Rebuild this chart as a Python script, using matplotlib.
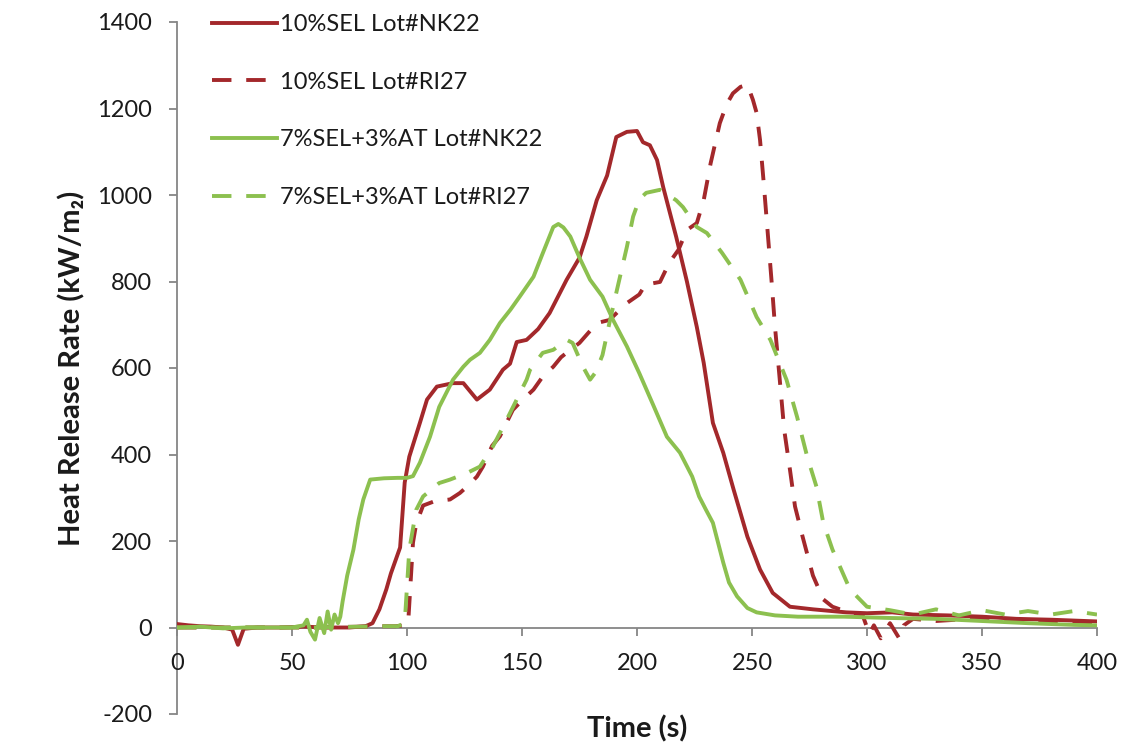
import matplotlib
matplotlib.use("Agg")
import matplotlib.pyplot as plt

plt.rcParams['font.family'] = ['Lato', 'DejaVu Sans']
plt.rcParams['axes.unicode_minus'] = False

# ---------------- data ----------------
t_sel_nk = [0, 5, 10, 15, 20, 24, 26.5, 29, 35, 45, 55, 65, 75, 82, 85, 88, 91, 93, 97, 99,
            101, 105.6, 108.7, 113, 120, 124.5, 130.4, 136, 141.7, 144.8, 147.7, 152, 157, 162, 169.4,
            175, 178, 182.5, 187, 191, 195.6, 200, 202.6, 205.6, 208.7, 211.4, 214, 217, 221.7, 226,
            229, 233, 237.5, 242, 248, 253.5, 259, 266.5, 276.5, 291, 300, 311, 320, 335, 350,
            365, 380, 400]
v_sel_nk = [8, 5, 3, 2, 0, -5, -40, -3, 0, 0, 2, 0, 0, 3, 10, 42, 88, 125, 185, 335,
            395, 473, 527, 557, 565, 565, 527, 550, 596, 610, 660, 665, 690, 727, 804,
            855, 904, 988, 1045, 1134, 1146, 1148, 1122, 1115, 1081, 1018, 965, 904, 800, 695,
            612, 473, 404, 319, 210, 134, 80, 48, 42, 35, 33, 35, 30, 28, 25,
            20, 18, 14]

t_sel_ri = [0, 20, 40, 60, 80, 90, 95, 99, 100.5, 102.6, 104, 107, 112, 118.7, 123,
            127, 130.4, 133, 137, 140.4, 146, 150, 155, 159, 163.6, 167, 171, 175, 182.6, 188,
            195.6, 201, 204, 207, 210, 214, 218, 221.7, 226, 229, 232, 236, 239, 241.7, 245,
            248, 250.4, 252, 253.5, 255, 256.5, 258.7, 260, 261.3, 264, 266.5, 268.7, 272, 276.5, 281,
            285, 292, 298, 301, 303, 306, 310, 314, 316, 320, 330, 345, 360, 380, 400]
v_sel_ri = [0, 0, 0, 0, 2, 3, 3, 5, 10, 196, 240, 282, 292, 296, 311,
            330, 349, 372, 420, 442, 503, 525, 550, 580, 603, 625, 642, 658, 704, 711,
            750, 770, 796, 796, 799, 843, 873, 919, 935, 988, 1073, 1166, 1210, 1235, 1250,
            1255, 1220, 1190, 1127, 1034, 935, 788, 695, 619, 457, 365, 280, 210, 120, 65,
            48, 35, 30, -15, 5, -25, 10, -25, 5, 20, 15, 20, 15, 15, 12]

t_at_nk = [0, 10, 20, 30, 40, 50, 55, 56.5, 58, 60, 62, 64, 65.5, 67, 68.5, 70, 71, 72, 74, 76.7,
           79, 81, 84, 90, 96, 100, 102.6, 105.6, 110, 114, 120, 124.5, 127.4, 131.7, 136,
           140.4, 145, 149, 155, 159, 163.6, 165.8, 168, 171, 175, 179.6, 185, 189.6, 195.6, 201,
           207, 213, 218.7, 224, 227, 230, 233, 237.5, 240, 243.5, 248, 252, 260, 270, 290,
           310, 330, 350, 370, 390, 400]
v_at_nk = [0, 2, -2, 0, 0, 0, 5, 18, -10, -28, 22, -13, 37, -5, 30, 10, 25, 60, 120, 180,
           250, 296, 342, 345, 346, 346, 350, 381, 441, 510, 573, 603, 619, 635, 665,
           704, 735, 765, 811, 865, 926, 933, 925, 904, 855, 804, 765, 711, 650, 588,
           515, 441, 404, 349, 303, 272, 242, 150, 104, 72, 45, 35, 28, 25, 25,
           22, 20, 15, 10, 6, 5]

t_at_ri = [0, 20, 40, 60, 80, 90, 96, 99, 101, 104, 107, 114, 118.7, 126, 131.7,
           137.4, 140.4, 144.8, 147.7, 152, 153.5, 159, 163.6, 169.5, 172, 176.5, 179.6, 182, 185, 188,
           191, 195.6, 198.3, 201, 204, 210, 217, 220, 226, 230.4, 237, 245, 252, 258, 265,
           269.6, 274, 278, 281, 285, 292.6, 300, 310, 320, 330, 340, 350, 360, 370, 380,
           390, 400]
v_at_ri = [0, 0, 0, 0, 2, 3, 3, 10, 180, 272, 303, 334, 342, 357, 372,
           419, 450, 496, 527, 573, 596, 635, 642, 665, 658, 603, 573, 590, 630, 704,
           774, 880, 950, 990, 1005, 1012, 988, 972, 926, 912, 866, 804, 718, 665, 573,
           487, 395, 326, 242, 180, 88, 48, 40, 30, 42, 28, 40, 30, 38, 30,
           38, 30]

labels = ['10%SEL Lot#NK22', '10%SEL Lot#RI27', '7%SEL+3%AT Lot#NK22', '7%SEL+3%AT Lot#RI27']
x_ticks = [0, 50, 100, 150, 200, 250, 300, 350, 400]
y_ticks = [-200, 0, 200, 400, 600, 800, 1000, 1200, 1400]

# ---------------- styles ----------------
RED = '#A3282B'
GREEN = '#8CC04F'
AXC = '#868686'
TXT = '#1a1a1a'
LW = 2.8
DASH = (5.0, 3.8)

fig = plt.figure(figsize=(11.38, 7.47), dpi=100)
ax = fig.add_axes([177/1138, 1 - 714/747, 920/1138, (714 - 22)/747])

ax.plot(t_sel_nk, v_sel_nk, color=RED, lw=LW, label=labels[0], zorder=3)
ax.plot(t_sel_ri, v_sel_ri, color=RED, lw=LW, dashes=DASH, label=labels[1], zorder=3)
ax.plot(t_at_nk, v_at_nk, color=GREEN, lw=LW, label=labels[2], zorder=3)
ax.plot(t_at_ri, v_at_ri, color=GREEN, lw=LW, dashes=DASH, label=labels[3], zorder=3)

ax.set_xlim(0, 400)
ax.set_ylim(-200, 1400)
ax.set_xticks(x_ticks)
ax.set_yticks(y_ticks)

for s in ['top', 'right']:
    ax.spines[s].set_visible(False)
ax.spines['bottom'].set_position(('data', 0))
for s in ['left', 'bottom']:
    ax.spines[s].set_color(AXC)
    ax.spines[s].set_linewidth(1.3)
    ax.spines[s].set_zorder(1)

ax.tick_params(axis='both', direction='out', length=6, width=1.3, color=AXC,
               labelsize=17, labelcolor=TXT)
ax.tick_params(axis='y', pad=12)
ax.tick_params(axis='x', pad=12)

ax.set_xlabel('Time (s)', fontsize=21, fontweight='bold', color=TXT)
ax.xaxis.set_label_coords(0.5, (714 - 729) / 692)
ax.xaxis.label.set_va('center')
ax.set_ylabel('Heat Release Rate (kW/m\u2082)', fontsize=21, fontweight='bold', color=TXT,
              labelpad=8)

leg = ax.legend(loc='upper left', bbox_to_anchor=(212/1138, 1 - 14/747),
                bbox_transform=fig.transFigure, frameon=False, fontsize=17,
                handlelength=2.75, handletextpad=0.15, labelspacing=1.55,
                borderpad=0, borderaxespad=0)
for txt in leg.get_texts():
    txt.set_color(TXT)

fig.savefig('out.png', dpi=100)
